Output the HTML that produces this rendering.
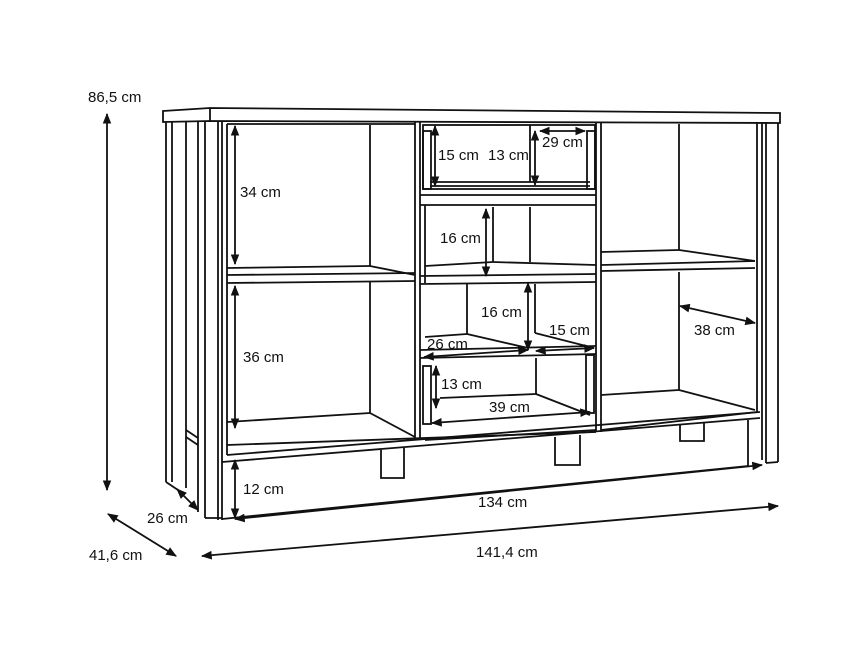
<!DOCTYPE html>
<html><head><meta charset="utf-8"><style>
html,body{margin:0;padding:0;background:#fff;}
svg{display:block}
text{font-family:"Liberation Sans",sans-serif;font-size:15px;fill:#111}
</style></head><body>
<svg width="867" height="650" viewBox="0 0 867 650" xmlns="http://www.w3.org/2000/svg">
<defs>
<marker id="a" viewBox="0 0 10 10" refX="9" refY="5" markerWidth="6" markerHeight="6" orient="auto-start-reverse"><path d="M0,1 L10,5 L0,9 z" fill="#111"/></marker>
</defs>
<g stroke="#111" stroke-width="1.8" fill="none">
<path d="M163,111 L210,108 L780,113 L780,123 L210,121 L163,122 Z"/>
<line x1="210" y1="108" x2="210" y2="121"/>
<line x1="166" y1="122" x2="166" y2="482"/>
<line x1="172" y1="122" x2="172" y2="482"/>
<line x1="186" y1="122" x2="186" y2="488"/>
<line x1="198" y1="122" x2="198" y2="512"/>
<line x1="205" y1="122" x2="205" y2="518"/>
<line x1="218" y1="122" x2="218" y2="520"/>
<line x1="166" y1="482" x2="178" y2="490"/>
<line x1="186" y1="430" x2="198" y2="438"/>
<line x1="186" y1="437" x2="198" y2="445"/>
<line x1="205" y1="518" x2="222" y2="518"/>
<line x1="222" y1="122" x2="222" y2="520"/>
<line x1="227" y1="124" x2="227" y2="455"/>
<line x1="227" y1="124" x2="415" y2="124"/>
<line x1="370" y1="125" x2="370" y2="266"/>
<line x1="227" y1="268" x2="370" y2="266"/>
<line x1="370" y1="266" x2="415" y2="275"/>
<line x1="227" y1="275" x2="415" y2="273"/>
<line x1="227" y1="283" x2="415" y2="281"/>
<line x1="370" y1="282" x2="370" y2="413"/>
<line x1="227" y1="422" x2="370" y2="413"/>
<line x1="370" y1="413" x2="415" y2="437"/>
<line x1="415" y1="122" x2="415" y2="440"/>
<line x1="420" y1="122" x2="420" y2="440"/>
<rect x="423" y="125" width="172" height="64"/>
<line x1="430" y1="186" x2="590" y2="186"/>
<line x1="430" y1="182" x2="590" y2="182"/>
<line x1="530" y1="125" x2="530" y2="182"/>
<line x1="420" y1="195" x2="596" y2="195"/>
<line x1="420" y1="205" x2="596" y2="205"/>
<line x1="425" y1="205" x2="425" y2="283"/>
<line x1="493" y1="207" x2="493" y2="262"/>
<line x1="530" y1="207" x2="530" y2="262"/>
<line x1="425" y1="266" x2="493" y2="262"/>
<line x1="493" y1="262" x2="596" y2="265"/>
<line x1="420" y1="276" x2="596" y2="274"/>
<line x1="420" y1="284" x2="596" y2="282"/>
<line x1="467" y1="284" x2="467" y2="334"/>
<line x1="535" y1="284" x2="535" y2="333"/>
<line x1="425" y1="337" x2="467" y2="334"/>
<line x1="467" y1="334" x2="528" y2="348"/>
<line x1="535" y1="333" x2="594" y2="348"/>
<line x1="420" y1="350" x2="596" y2="346"/>
<line x1="420" y1="358" x2="596" y2="354"/>
<line x1="536" y1="358" x2="536" y2="394"/>
<line x1="440" y1="398" x2="536" y2="394"/>
<line x1="536" y1="394" x2="590" y2="415"/>
<rect x="423" y="366" width="8" height="58"/>
<rect x="586" y="355" width="8" height="58"/>
<rect x="423" y="131" width="8" height="58"/>
<rect x="587" y="131" width="8" height="58"/>
<line x1="425" y1="440" x2="596" y2="430"/>
<line x1="596" y1="122" x2="596" y2="432"/>
<line x1="601" y1="122" x2="601" y2="432"/>
<line x1="679" y1="124" x2="679" y2="250"/>
<line x1="601" y1="252" x2="679" y2="250"/>
<line x1="679" y1="250" x2="755" y2="261"/>
<line x1="601" y1="265" x2="755" y2="261"/>
<line x1="601" y1="271" x2="755" y2="268"/>
<line x1="679" y1="272" x2="679" y2="390"/>
<line x1="601" y1="395" x2="679" y2="390"/>
<line x1="679" y1="390" x2="755" y2="410"/>
<line x1="757" y1="122" x2="757" y2="412"/>
<line x1="762" y1="122" x2="762" y2="460"/>
<line x1="766" y1="122" x2="766" y2="463"/>
<line x1="778" y1="123" x2="778" y2="462"/>
<line x1="766" y1="463" x2="778" y2="462"/>
<line x1="227" y1="455" x2="760" y2="412"/>
<line x1="222" y1="462" x2="760" y2="418"/>
<line x1="227" y1="445" x2="596" y2="432"/>
<line x1="601" y1="430" x2="757" y2="412"/>
<line x1="222" y1="519" x2="748" y2="466"/>
<line x1="748" y1="420" x2="748" y2="466"/>
<path d="M381,450 L381,478 L404,478 L404,448"/>
<path d="M555,437 L555,465 L580,465 L580,435"/>
<path d="M680,424 L680,441 L704,441 L704,422"/>
</g>
<g stroke="#111" stroke-width="1.8" fill="none" marker-start="url(#a)" marker-end="url(#a)">
<line x1="107" y1="114" x2="107" y2="490"/>
<line x1="177" y1="489" x2="198" y2="510"/>
<line x1="108" y1="514" x2="176" y2="556"/>
<line x1="202" y1="556" x2="778" y2="506"/>
<line x1="235" y1="519" x2="762" y2="465"/>
<line x1="235" y1="460" x2="235" y2="518"/>
<line x1="235" y1="126" x2="235" y2="264"/>
<line x1="235" y1="286" x2="235" y2="428"/>
<line x1="435" y1="126" x2="435" y2="186"/>
<line x1="535" y1="131" x2="535" y2="185"/>
<line x1="540" y1="131" x2="585" y2="131"/>
<line x1="486" y1="209" x2="486" y2="276"/>
<line x1="528" y1="283" x2="528" y2="350"/>
<line x1="424" y1="357" x2="528" y2="350"/>
<line x1="536" y1="351" x2="594" y2="348"/>
<line x1="436" y1="366" x2="436" y2="408"/>
<line x1="432" y1="423" x2="590" y2="412"/>
<line x1="680" y1="306" x2="755" y2="323"/>
</g>
<text x="88" y="102">86,5 cm</text>
<text x="147" y="523">26 cm</text>
<text x="89" y="560">41,6 cm</text>
<text x="478" y="507">134 cm</text>
<text x="476" y="557">141,4 cm</text>
<text x="243" y="494">12 cm</text>
<text x="240" y="197">34 cm</text>
<text x="243" y="362">36 cm</text>
<text x="438" y="160">15 cm</text>
<text x="488" y="160">13 cm</text>
<text x="542" y="147">29 cm</text>
<text x="440" y="243">16 cm</text>
<text x="481" y="317">16 cm</text>
<text x="549" y="335">15 cm</text>
<text x="427" y="349">26 cm</text>
<text x="441" y="389">13 cm</text>
<text x="489" y="412">39 cm</text>
<text x="694" y="335">38 cm</text>
</svg>
</body></html>
